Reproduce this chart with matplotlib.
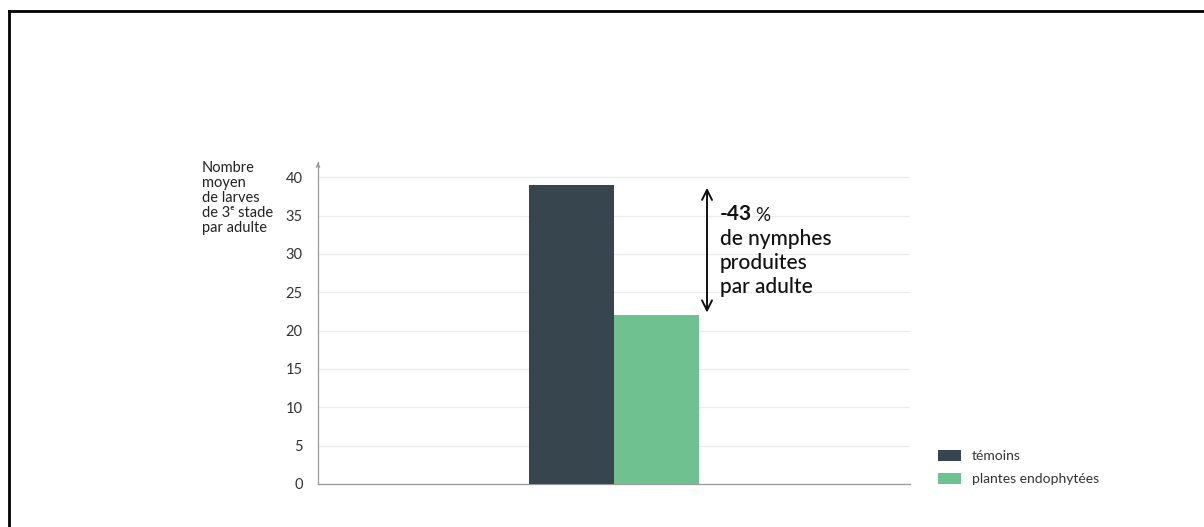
import matplotlib
matplotlib.use('Agg')
import matplotlib.pyplot as plt
from matplotlib.patches import Patch
from matplotlib.lines import Line2D

# data
series = ['témoins', 'plantes endophytées']
values = [39, 22]
colors = ['#37454f', '#6fc18f']
yticks = [0, 5, 10, 15, 20, 25, 30, 35, 40]
ylabel = 'Nombre\nmoyen\nde larves\nde 3ᵉ stade\npar adulte'
note_pct = '-43'
note_text = 'de nymphes\nproduites\npar adulte'

plt.rcParams['font.family'] = ['Lato', 'DejaVu Sans']

fig = plt.figure(figsize=(12.04, 5.27), dpi=100)
ax = fig.add_axes([0.2641, 0.0816, 0.4917, 0.611])

# bars
xs = [-0.5, 0.5]
for x, v, c in zip(xs, values, colors):
    ax.bar(x, v, width=1.0, color=c, zorder=3)

ax.set_xlim(-3.5, 3.5)
ax.set_ylim(0, 42)
ax.set_yticks(yticks)
ax.set_yticklabels([str(t) for t in yticks], fontsize=10.5, color='#333333')
ax.set_xticks([])
ax.tick_params(axis='y', length=0, pad=11)
ax.grid(axis='y', color='#ececec', linewidth=0.9, zorder=0)
for s in ['top', 'right']:
    ax.spines[s].set_visible(False)
ax.spines['left'].set_color('#999999')
ax.spines['bottom'].set_color('#999999')
ax.spines['left'].set_linewidth(0.9)
ax.spines['bottom'].set_linewidth(0.9)

# arrow tip on y axis
ax.annotate('', xy=(-3.5, 42.3), xytext=(-3.5, 41.0),
            arrowprops=dict(arrowstyle='->', color='#999999', lw=0.9,
                            mutation_scale=6), annotation_clip=False)

# y label
fig.text(202 / 1204, 1 - 161 / 527, ylabel, ha='left', va='top',
         fontsize=10.5, color='#222222', linespacing=1.08)

# difference arrow
ax.annotate('', xy=(1.1, values[0]), xytext=(1.1, values[1]),
            arrowprops=dict(arrowstyle='<->', color='#111111', lw=1.4,
                            mutation_scale=18))
t = ax.text(1.25, 35.2, note_pct, fontsize=15, fontweight='bold',
            color='#111111', va='center', ha='left')
ax.annotate('%', xy=(1, 0), xycoords=t, xytext=(2.5, 0),
            textcoords='offset points', fontsize=13.5, color='#111111',
            va='bottom', ha='left')
ax.text(1.25, 33.3, note_text, fontsize=15, fontweight='medium',
        color='#111111', va='top', ha='left', linespacing=1.25)

# legend
handles = [Patch(facecolor=c, edgecolor='none') for c in colors]
fig.legend(handles, series, loc='upper left',
           bbox_to_anchor=(925 / 1204, 1 - 437 / 527), frameon=False,
           fontsize=10, handlelength=1.7, handleheight=0.85,
           handletextpad=0.8, labelspacing=0.8, labelcolor='#333333')

# outer frame (left and top)
fig.add_artist(Line2D([8.5 / 1204, 8.5 / 1204], [0, 1 - 10.5 / 527],
                      transform=fig.transFigure, color='black', lw=2))
fig.add_artist(Line2D([8.5 / 1204, 1], [1 - 10.5 / 527, 1 - 10.5 / 527],
                      transform=fig.transFigure, color='black', lw=2))

fig.savefig('out.png', dpi=100, facecolor='white')
